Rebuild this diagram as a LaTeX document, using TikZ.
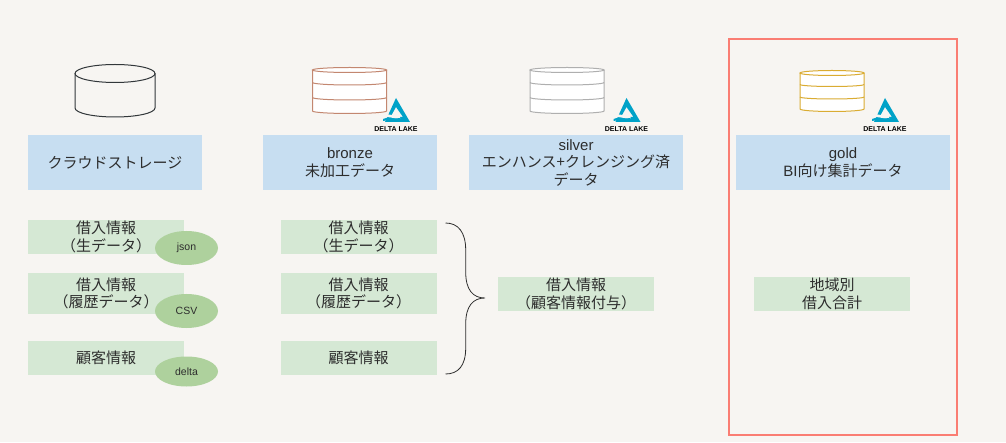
\documentclass[tikz,border=0pt]{standalone}
\usepackage{fontspec}
\usepackage{tikz}
\usetikzlibrary{calc, positioning, arrows.meta, shapes.geometric}
\setmainfont{Liberation Sans}
\newfontfamily\jpfont{Noto Sans CJK JP}
\definecolor{pageBg}{RGB}{247, 245, 242}
\definecolor{headBg}{RGB}{199, 222, 241}
\definecolor{tableBg}{RGB}{213, 232, 212}
\definecolor{formatBg}{RGB}{174, 209, 157}
\definecolor{goldFrame}{RGB}{250, 125, 115}
\definecolor{deltaBlue}{RGB}{0, 162, 200}
\definecolor{rawLine}{RGB}{50, 55, 58}
\definecolor{bronzeLine}{RGB}{195, 135, 112}
\definecolor{silverLine}{RGB}{175, 175, 175}
\definecolor{goldLine}{RGB}{218, 172, 50}
\definecolor{inkText}{RGB}{45, 45, 45}
\tikzset{
  layerhead/.style={fill=headBg, inner sep=0pt, align=center, text=inkText,
    font=\fontsize{15}{17.5}\selectfont\jpfont, minimum height=55pt},
  tablebox/.style={fill=tableBg, inner sep=0pt, align=center, text=inkText,
    font=\fontsize{15}{17.5}\selectfont\jpfont, minimum width=156pt},
  formattag/.style={ellipse, fill=formatBg, inner sep=0pt, minimum width=63pt,
    text=inkText, font=\fontsize{10.5}{12}\selectfont},
  pics/store/.style n args={5}{code={
    \fill[#5] (0,0) ellipse ({#1} and {#2});
    \fill[#5] (-#1,0) rectangle (#1,-#3);
    \fill[#5] (0,-#3) ellipse ({#1} and {#2});
    \draw[#4, line width=1pt] (0,0) ellipse ({#1} and {#2});
    \draw[#4, line width=1pt] (-#1,0) -- (-#1,-#3) arc[start angle=180, end angle=360, x radius=#1, y radius=#2] -- (#1,0);
  }},
  pics/deltalogo/.style={code={
    \fill[deltaBlue, even odd rule] (0,13) -- (14,-11) -- (-11,-11) -- cycle (0,4) -- (-5,-5) -- (7,-6) -- cycle;
    \fill[pageBg] (-16,-4) .. controls (-8,-1) and (-3,-6) .. (4,-5) -- (4,-8) .. controls (-3,-8) and (-8,-4) .. (-16,-7) -- cycle;
    \fill[deltaBlue] (-13,-8) .. controls (-8,-5) and (-3,-9) .. (4,-7) -- (4,-9) .. controls (-3,-11) and (-8,-8) .. (-13,-10) -- cycle;
    \node[font=\fontsize{7}{7}\selectfont\bfseries, text=black, inner sep=0pt] at (0,-18) {DELTA LAKE};
  }}
}
\begin{document}
\begin{tikzpicture}[x=1pt, y=1pt]
  \fill[pageBg] (0,0) rectangle (1006,442);
  \useasboundingbox (0,0) rectangle (1006,442);

  \node[draw=goldFrame, line width=1.2pt, minimum width=228pt, minimum height=396pt, inner sep=0pt] (goldzone) at (843,205) {};

  % cylinders
  \pic at (115,368.5) {store={40}{9}{34.5}{rawLine}{pageBg}};
  \pic at (349.5,372) {store={37}{2.5}{41}{bronzeLine}{white}};
  \draw[bronzeLine, line width=1pt] (312.5,359.5) arc[start angle=180, end angle=360, x radius=37, y radius=2.5];
  \draw[bronzeLine, line width=1pt] (312.5,344.5) arc[start angle=180, end angle=360, x radius=37, y radius=2.5];
  \pic at (567,372) {store={37}{2.5}{41}{silverLine}{white}};
  \draw[silverLine, line width=1pt] (530,359.5) arc[start angle=180, end angle=360, x radius=37, y radius=2.5];
  \draw[silverLine, line width=1pt] (530,344.5) arc[start angle=180, end angle=360, x radius=37, y radius=2.5];
  \pic at (832,369) {store={32}{2.5}{36}{goldLine}{white}};
  \draw[goldLine, line width=1pt] (800,357.5) arc[start angle=180, end angle=360, x radius=32, y radius=2];
  \draw[goldLine, line width=1pt] (800,345) arc[start angle=180, end angle=360, x radius=32, y radius=2];

  % logos
  \pic at (396,331) {deltalogo};
  \pic at (626.5,331) {deltalogo};
  \pic at (885,331) {deltalogo};

  % layers
  \node[layerhead, minimum width=174pt] (rawhead) at (115,279.5) {クラウドストレージ};
  \node[layerhead, minimum width=174pt] (bronzehead) at (350,279.5)
    {{\rmfamily bronze}\\未加工データ};
  \node[layerhead, minimum width=214pt] (silverhead) at (576,279.5)
    {{\rmfamily silver}\\エンハンス+クレンジング済\\データ};
  \node[layerhead, minimum width=214pt] (goldhead) at (843,279.5)
    {{\rmfamily gold}\\{\rmfamily BI}向け集計データ};

  % raw tables
  \node[tablebox, minimum height=34pt] (rawloan) at (106,205) {借入情報\\（生データ）};
  \node[tablebox, minimum height=41pt] (rawhist) at (106,148.5) {借入情報\\（履歴データ）};
  \node[tablebox, minimum height=34pt] (rawcust) at (106,84) {顧客情報};
  \node[formattag, minimum height=34pt] (tagjson) at (186.5,194) {json};
  \node[formattag, minimum height=34pt] (tagcsv) at (186.5,131) {CSV};
  \node[formattag, minimum height=30pt] (tagdelta) at (186.5,70.5) {delta};

  % bronze tables
  \node[tablebox, minimum height=34pt] (bronzeloan) at (358.5,205) {借入情報\\（生データ）};
  \node[tablebox, minimum height=41pt] (bronzehist) at (358.5,148.5) {借入情報\\（履歴データ）};
  \node[tablebox, minimum height=34pt] (bronzecust) at (358.5,84) {顧客情報};

  \node[tablebox, minimum height=34pt] (silverloan) at (576,148) {借入情報\\（顧客情報付与）};
  \node[tablebox, minimum height=34pt] (goldsum) at (832,148) {地域別\\借入合計};

  % brace
  \coordinate (bracetop) at (445.5,219);
  \coordinate (bracetip) at (485,144);
  \coordinate (bracebot) at (445.5,68);
  \draw[inkText, line width=0.8pt] (bracetop) .. controls (458,219) and (465.7,210) .. (465.7,192)
    -- (465.7,170) .. controls (465.7,152) and (473,144) .. (bracetip)
    .. controls (473,144) and (465.7,136) .. (465.7,118)
    -- (465.7,94) .. controls (465.7,76) and (458,68) .. (bracebot);
\end{tikzpicture}
\end{document}
